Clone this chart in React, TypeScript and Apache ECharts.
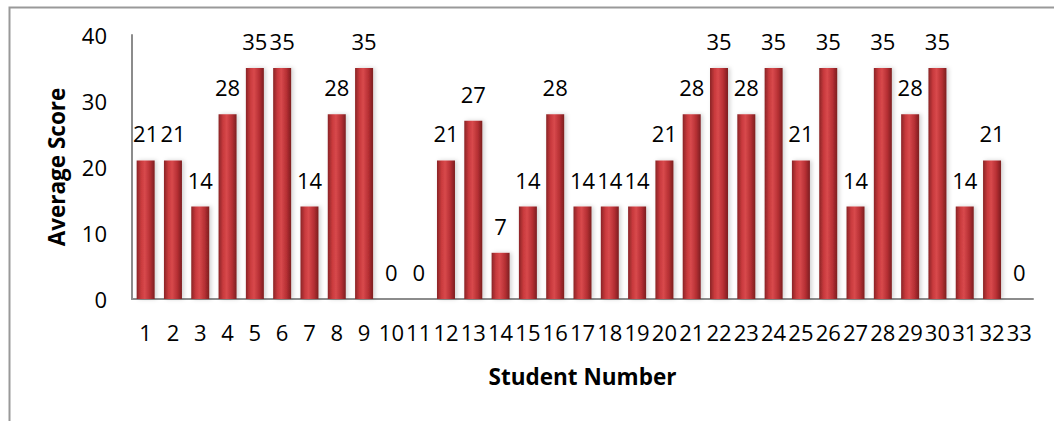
import React, { useEffect, useRef } from "react";
import * as echarts from "echarts";

const categories = Array.from({ length: 33 }, (_, i) => String(i + 1));
const scores = [21, 21, 14, 28, 35, 35, 14, 28, 35, 0, 0, 21, 27, 7, 14, 28, 14, 14, 14, 21, 28, 35, 28, 35, 21, 35, 14, 35, 28, 35, 14, 21, 0];
const yTicks = { min: 0, max: 40, interval: 10 };
const xTitle = "Student Number";
const yTitle = "Average Score";

const FONT = "'Open Sans', 'Noto Sans', sans-serif";

export default function App() {
  const ref = useRef<HTMLDivElement>(null);
  useEffect(() => {
    if (!ref.current) return;
    const chart = echarts.init(ref.current, null, { renderer: "svg" });
    chart.setOption({
      animation: false,
      backgroundColor: "#ffffff",
      graphic: [
        {
          type: "rect",
          left: 7,
          top: 5,
          shape: { width: 1200, height: 600 },
          style: { fill: "none", stroke: "#999999", lineWidth: 2 },
          silent: true,
        },
      ],
      grid: { left: 132, right: 21, top: 35, bottom: 122 },
      xAxis: {
        type: "category",
        data: categories,
        name: xTitle,
        nameLocation: "middle",
        nameGap: 66,
        nameTextStyle: { fontFamily: FONT, fontSize: 22.5, fontWeight: "bold", color: "#000" },
        axisLine: { show: true, lineStyle: { color: "#8c8c8c", width: 2 } },
        axisTick: { show: false },
        axisLabel: { fontFamily: FONT, fontSize: 22, color: "#000", margin: 22, interval: 0 },
      },
      yAxis: {
        type: "value",
        min: yTicks.min,
        max: yTicks.max,
        interval: yTicks.interval,
        name: yTitle,
        nameLocation: "middle",
        nameGap: 64,
        nameTextStyle: { fontFamily: FONT, fontSize: 22.5, fontWeight: "bold", color: "#000" },
        axisLine: { show: true, lineStyle: { color: "#8c8c8c", width: 2 } },
        axisTick: { show: false },
        splitLine: { show: false },
        axisLabel: { fontFamily: FONT, fontSize: 22, color: "#000", margin: 25 },
      },
      series: [
        {
          type: "bar",
          data: scores,
          barWidth: 18,
          itemStyle: {
            color: new echarts.graphic.LinearGradient(0, 0, 1, 0, [
              { offset: 0, color: "#8a2426" },
              { offset: 0.25, color: "#c93a3d" },
              { offset: 0.45, color: "#d8494c" },
              { offset: 0.75, color: "#b52f33" },
              { offset: 1, color: "#7c1e20" },
            ]),
            shadowColor: "rgba(0,0,0,0.18)",
            shadowBlur: 4,
            shadowOffsetX: 2,
          },
          label: {
            show: true,
            position: "top",
            distance: 16,
            fontFamily: FONT,
            fontSize: 22,
            color: "#000",
          },
        },
      ],
    });
    return () => chart.dispose();
  }, []);
  return <div ref={ref} style={{ position: "fixed", left: 0, top: 0, width: 1054, height: 421 }} />;
}
